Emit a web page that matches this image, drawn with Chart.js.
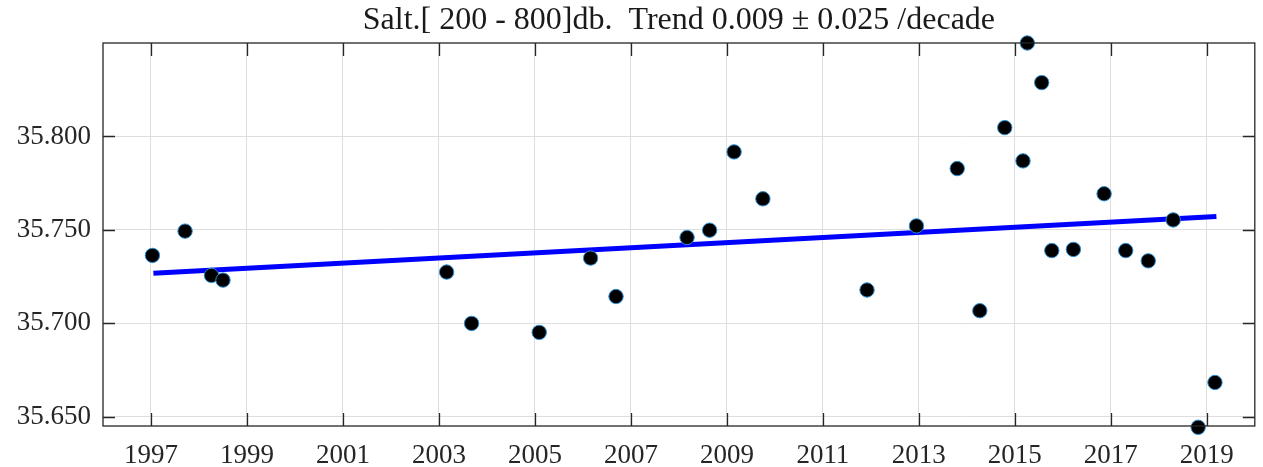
<!DOCTYPE html>
<html>
<head>
<meta charset="utf-8">
<script src="https://cdn.jsdelivr.net/npm/chart.js@4/dist/chart.umd.min.js"></script>
<style>
  html, body { margin: 0; padding: 0; background: #fff; }
  #wrap { width: 1263px; height: 467px; }
</style>
</head>
<body>
<div id="wrap"><canvas id="saltChart"></canvas></div>
<script>
// profile times (decimal year) and salinity 200-800 db
const years = [1997.03, 1997.71, 1998.26, 1998.50, 2003.16, 2003.68, 2005.09, 2006.16, 2006.69,
  2008.17, 2008.64, 2009.15, 2009.75, 2011.92, 2012.95, 2013.80, 2014.27, 2014.79, 2015.17,
  2015.26, 2015.56, 2015.77, 2016.22, 2016.86, 2017.31, 2017.78, 2018.30, 2018.82, 2019.17];
const salinity = [35.7363, 35.7493, 35.7256, 35.7231, 35.7274, 35.6999, 35.6951, 35.7349, 35.7143,
  35.7459, 35.7498, 35.7917, 35.7666, 35.7178, 35.7521, 35.7828, 35.7067, 35.8047, 35.7869,
  35.8500, 35.8288, 35.7389, 35.7395, 35.7693, 35.7389, 35.7334, 35.7553, 35.6443, 35.6683];

// fitted trend line end points
const trendYears = [1997.05, 2019.2];
const trendValues = [35.7268, 35.7571];

const xTickYears = [1997, 1999, 2001, 2003, 2005, 2007, 2009, 2011, 2013, 2015, 2017, 2019];
const yTickValues = [35.65, 35.70, 35.75, 35.80];

const titleText = "Salt.[ 200 - 800]db.  Trend 0.009 \u00b1 0.025 /decade";

const axisColor = "#262626";
const tickFont = { family: "Liberation Serif", size: 27 };

// MATLAB style box with inward ticks on all four sides, title centred on the axes
const boxTicks = {
  id: "boxTicks",
  afterDatasetsDraw(chart) {
    const { ctx, chartArea: a, scales } = chart;
    const len = 13;
    ctx.save();
    ctx.strokeStyle = axisColor;
    ctx.lineWidth = 1.3;
    ctx.strokeRect(a.left, a.top, a.right - a.left, a.bottom - a.top);
    ctx.beginPath();
    xTickYears.forEach(v => {
      const px = Math.round(scales.x.getPixelForValue(v)) + 0.5;
      ctx.moveTo(px, a.bottom); ctx.lineTo(px, a.bottom - len);
      ctx.moveTo(px, a.top); ctx.lineTo(px, a.top + len);
    });
    yTickValues.forEach(v => {
      const py = Math.round(scales.y.getPixelForValue(v)) + 0.5;
      ctx.moveTo(a.left, py); ctx.lineTo(a.left + len - 1, py);
      ctx.moveTo(a.right, py); ctx.lineTo(a.right - len + 1, py);
    });
    ctx.stroke();

    ctx.fillStyle = "#1a1a1a";
    ctx.font = "32px 'Liberation Serif'";
    ctx.textAlign = "center";
    ctx.textBaseline = "middle";
    ctx.fillText(titleText, (a.left + a.right) / 2, 21);
    ctx.restore();
  }
};

new Chart(document.getElementById("saltChart"), {
  type: "scatter",
  data: {
    datasets: [
      {
        label: "Salt",
        data: years.map((x, i) => ({ x, y: salinity[i] })),
        backgroundColor: "#000000",
        borderColor: "#2a8fd4",
        borderWidth: 1,
        pointRadius: 7.2,
        pointHoverRadius: 7.2
      },
      {
        label: "Trend",
        data: trendYears.map((x, i) => ({ x, y: trendValues[i] })),
        showLine: true,
        borderColor: "#0000ff",
        borderWidth: 5,
        pointRadius: 0,
        fill: false
      }
    ]
  },
  options: {
    responsive: true,
    maintainAspectRatio: false,
    animation: false,
    clip: false,
    layout: { padding: { left: 0, right: 5, top: 43, bottom: 0 } },
    plugins: {
      legend: { display: false },
      tooltip: { enabled: false },
      title: { display: false }
    },
    scales: {
      x: {
        type: "linear",
        min: 1996,
        max: 2020,
        afterBuildTicks: s => { s.ticks = xTickYears.map(v => ({ value: v })); },
        afterFit: s => { s.height = 41; },
        grid: { color: "#dedede", lineWidth: 1, drawTicks: false },
        border: { display: false },
        ticks: {
          color: axisColor,
          font: tickFont,
          padding: 14,
          maxRotation: 0,
          callback: v => String(v)
        }
      },
      y: {
        min: 35.645,
        max: 35.850,
        afterBuildTicks: s => { s.ticks = yTickValues.map(v => ({ value: v })); },
        afterFit: s => { s.width = 103; },
        grid: { color: "#dedede", lineWidth: 1, drawTicks: false },
        border: { display: false },
        ticks: {
          color: axisColor,
          font: tickFont,
          padding: 12,
          callback: v => Number(v).toFixed(3)
        }
      }
    }
  },
  plugins: [boxTicks]
});
</script>
</body>
</html>
